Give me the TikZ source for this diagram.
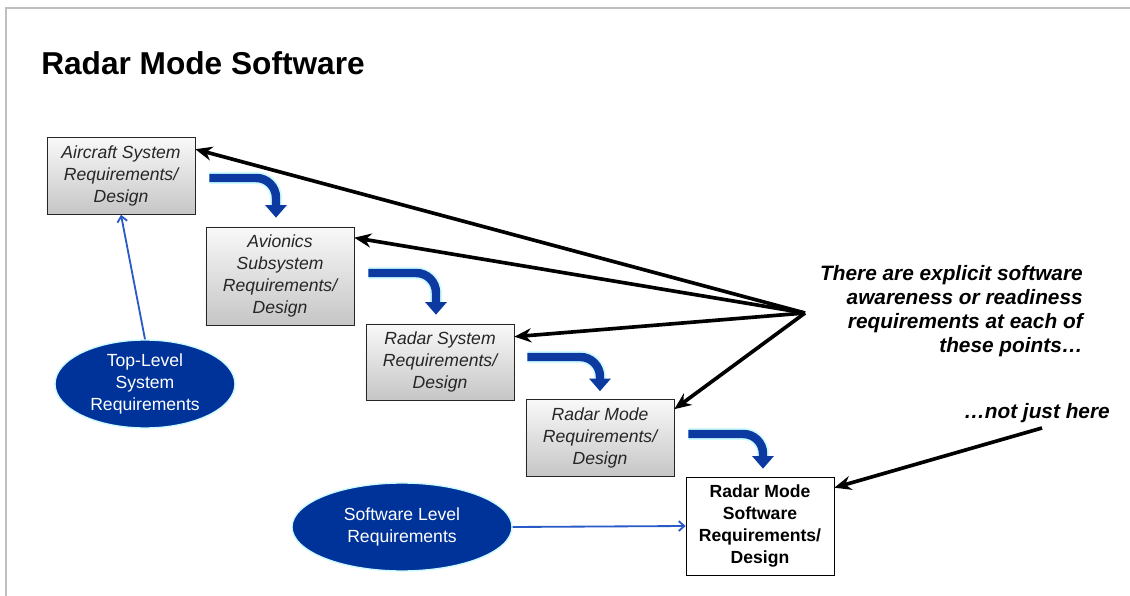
\documentclass[tikz,border=0pt]{standalone}
\usepackage{fontspec}
\setmainfont{Liberation Sans}
\usetikzlibrary{arrows.meta,shapes.geometric,calc}

\definecolor{darkblue}{RGB}{0,51,153}
\definecolor{flowblue}{RGB}{12,58,160}
\definecolor{linkblue}{RGB}{40,90,200}
\definecolor{glowcyan}{RGB}{205,250,255}

\tikzset{
  reqbox/.style={draw=black!85, top color=gray!5, bottom color=gray!45,
    minimum width=3.7cm, align=center, inner sep=2pt, text=black!85,
    font=\itshape\fontsize{12.5}{15.6}\selectfont},
  swbox/.style={draw=black, fill=white, minimum width=3.7cm, align=center,
    inner sep=2pt, font=\bfseries\fontsize{12.5}{15.6}\selectfont},
  reqblob/.style={ellipse, fill=darkblue, draw=glowcyan, line width=1pt,
    text=white, align=center, inner sep=0pt,
    font=\fontsize{12.5}{15.6}\selectfont},
  note/.style={align=right, inner sep=0pt,
    font=\bfseries\itshape\fontsize{14.8}{17}\selectfont},
  flow/.style={draw=flowblue, line width=6pt, rounded corners=14pt,
    -{Triangle[width=15pt,length=9pt]},
    preaction={draw=glowcyan, line width=8.5pt, -, shorten >=5pt}},
  pointer/.style={draw=black, line width=2.6pt,
    -{Stealth[length=12pt,width=10pt]}},
  link/.style={draw=linkblue, line width=1.3pt,
    -{Straight Barb[length=4pt,width=7pt]}}
}

\begin{document}
\begin{tikzpicture}[x=0.025cm,y=-0.025cm]
  \useasboundingbox (0,0) rectangle (1130,596);
  \draw[gray!50, line width=1.5pt] (1130,8) -- (6,8) -- (6,596);

  \node[anchor=west, inner sep=0pt, font=\bfseries\fontsize{22.5}{26}\selectfont] (title) at (41,63) {Radar Mode Software};

  % requirement levels
  \node[reqbox, minimum height=1.925cm] (aircraft) at (121,176) {Aircraft System\\Requirements/\\Design};
  \node[reqbox, minimum height=2.45cm] (avionics) at (280,276) {Avionics\\Subsystem\\Requirements/\\Design};
  \node[reqbox, minimum height=1.9cm] (radarsys) at (440,362) {Radar System\\Requirements/\\Design};
  \node[reqbox, minimum height=1.925cm] (radarmode) at (600,438) {Radar Mode\\Requirements/\\Design};
  \node[swbox, minimum height=2.45cm] (swreq) at (760,526) {Radar Mode\\Software\\Requirements/\\Design};

  \node[reqblob, minimum width=4.5cm, minimum height=2.2cm] (toplevel) at (145,384) {Top-Level\\System\\Requirements};
  \node[reqblob, minimum width=5.5cm, minimum height=2.2cm] (swlevel) at (402,527) {Software Level\\Requirements};

  % flow down
  \draw[flow] ($(aircraft.east)+(14,2)$) -| ($(avionics.north)+(-4,-9)$);
  \draw[flow] ($(avionics.east)+(14,-3)$) -| ($(radarsys.north)+(-4,-9)$);
  \draw[flow] ($(radarsys.east)+(13,-5)$) -| ($(radarmode.north)+(0,-8)$);
  \draw[flow] ($(radarmode.east)+(14,-4)$) -| ($(swreq.north)+(3,-8)$);

  \draw[link] (toplevel.north) -- (aircraft.south);
  \draw[link] (swlevel.east) -- (swreq.west);

  % callouts
  \node[note, anchor=east] (explicit) at (1083,311) {There are explicit software\\awareness or readiness\\requirements at each of\\these points\dots};
  \node[note, anchor=east] (here) at (1110,413) {\dots not just here};
  \coordinate (hub) at (805,313);
  \coordinate (herestart) at (1042,428);

  \draw[pointer] (hub) -- ($(aircraft.north east)+(0,12)$);
  \draw[pointer] (hub) -- ($(avionics.north east)+(0,11)$);
  \draw[pointer] (hub) -- ($(radarsys.north east)+(0,13)$);
  \draw[pointer] (hub) -- ($(radarmode.north east)+(0,10)$);
  \draw[pointer] (herestart) -- ($(swreq.north east)+(0,11)$);
\end{tikzpicture}
\end{document}
